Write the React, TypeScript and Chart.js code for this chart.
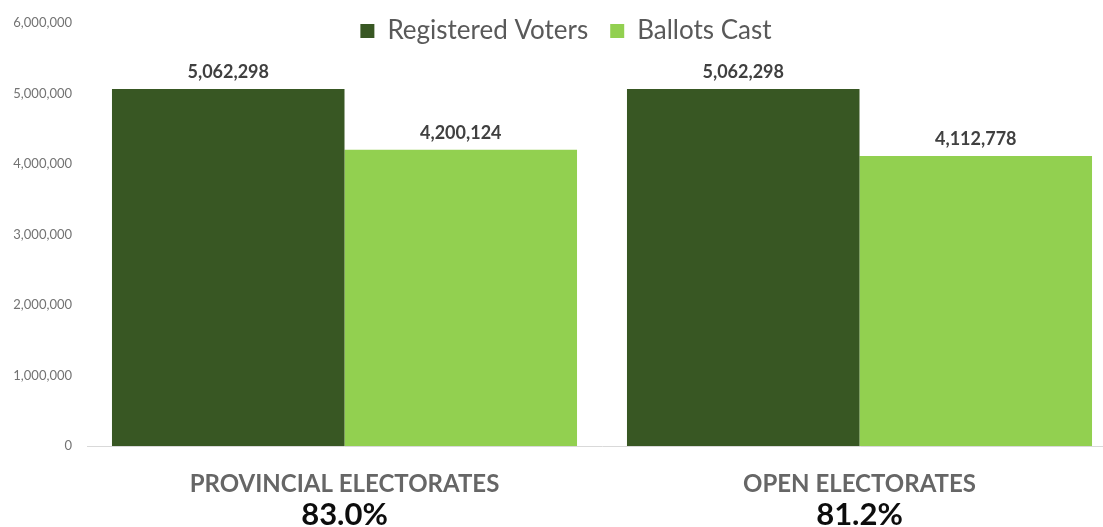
import React, { useEffect, useRef } from 'react';
import { Chart, registerables } from 'chart.js';

Chart.register(...registerables);

const categories = ['PROVINCIAL ELECTORATES', 'OPEN ELECTORATES'];
const turnoutLabels = ['83.0%', '81.2%'];
const registeredVoters = [5062298, 5062298];
const ballotsCast = [4200124, 4112778];
const yMin = 0;
const yMax = 6000000;
const yStep = 1000000;

const DARK = '#385723';
const LIGHT = '#92d050';

export default function App() {
  const ref = useRef<HTMLCanvasElement | null>(null);

  useEffect(() => {
    const canvas = ref.current;
    if (!canvas) return;

    const valueLabels = {
      id: 'valueLabels',
      afterDatasetsDraw(chart: any) {
        const ctx = chart.ctx;
        ctx.save();
        ctx.font = 'bold 18px Lato';
        ctx.fillStyle = '#404040';
        ctx.textAlign = 'center';
        ctx.textBaseline = 'alphabetic';
        chart.data.datasets.forEach((ds: any, i: number) => {
          chart.getDatasetMeta(i).data.forEach((el: any, j: number) => {
            ctx.fillText(Number(ds.data[j]).toLocaleString('en-US'), el.x, el.y - 11);
          });
        });
        ctx.restore();
      },
    };

    const legendFontSize = 26;
    const legendPadding = 22;
    const legendPlace = {
      id: 'legendPlace',
      afterLayout(chart: any) {
        const l = chart.legend;
        if (!l) return;
        l.left = 0;
        l.right = 1132;
        l.top = 31 - legendPadding - legendFontSize / 2;
        l.bottom = l.top + 80;
      },
    };

    const chart = new Chart(canvas, {
      type: 'bar',
      data: {
        labels: categories,
        datasets: [
          {
            label: 'Registered Voters',
            data: registeredVoters,
            backgroundColor: DARK,
            borderWidth: 0,
            categoryPercentage: 0.903,
            barPercentage: 1,
            xAxisID: 'x',
          },
          {
            label: 'Ballots Cast',
            data: ballotsCast,
            backgroundColor: LIGHT,
            borderWidth: 0,
            categoryPercentage: 0.903,
            barPercentage: 1,
            xAxisID: 'x',
          },
        ],
      },
      options: {
        responsive: false,
        animation: false,
        layout: { padding: { top: 20, left: 0, right: 0, bottom: 0 } },
        plugins: {
          legend: {
            position: 'top',
            align: 'center',
            maxHeight: 0.01,
            labels: {
              boxWidth: 14,
              boxHeight: 14,
              padding: legendPadding,
              color: '#595959',
              font: { family: 'Lato', size: legendFontSize },
            },
          },
          tooltip: { enabled: false },
        },
        scales: {
          x: {
            type: 'category',
            position: 'bottom',
            offset: true,
            grid: { display: false, drawTicks: false },
            border: { display: true, color: '#d9d9d9', width: 1 },
            ticks: {
              color: '#666666',
              font: { family: 'Lato', size: 24, weight: 'bold' },
              padding: 24,
              maxRotation: 0,
              autoSkip: false,
            },
            afterFit: (a: any) => {
              a.height = 81;
            },
          },
          x2: {
            type: 'category',
            axis: 'x',
            labels: turnoutLabels,
            position: { y: 0 },
            offset: true,
            grid: { display: false, drawTicks: false },
            border: { display: false },
            ticks: {
              color: '#0d0d0d',
              font: { family: 'Lato', size: 31, weight: 'bold' },
              padding: 50,
              maxRotation: 0,
              autoSkip: false,
            },
          },
          y: {
            min: yMin,
            max: yMax,
            grid: { display: false, drawTicks: false },
            border: { display: false },
            ticks: {
              stepSize: yStep,
              padding: 15,
              color: '#737373',
              font: { family: 'Lato', size: 13 },
              callback: (v: any) => Number(v).toLocaleString('en-US'),
            },
            afterFit: (a: any) => {
              a.width = 87;
            },
          },
        },
      } as any,
      plugins: [valueLabels, legendPlace],
    });

    return () => chart.destroy();
  }, []);

  return (
    <div style={{ position: 'absolute', left: 0, top: 0, width: 1103, height: 527, overflow: 'hidden', background: '#fff' }}>
      <canvas ref={ref} width={1117} height={527} style={{ display: 'block', width: 1117, height: 527 }} />
    </div>
  );
}
